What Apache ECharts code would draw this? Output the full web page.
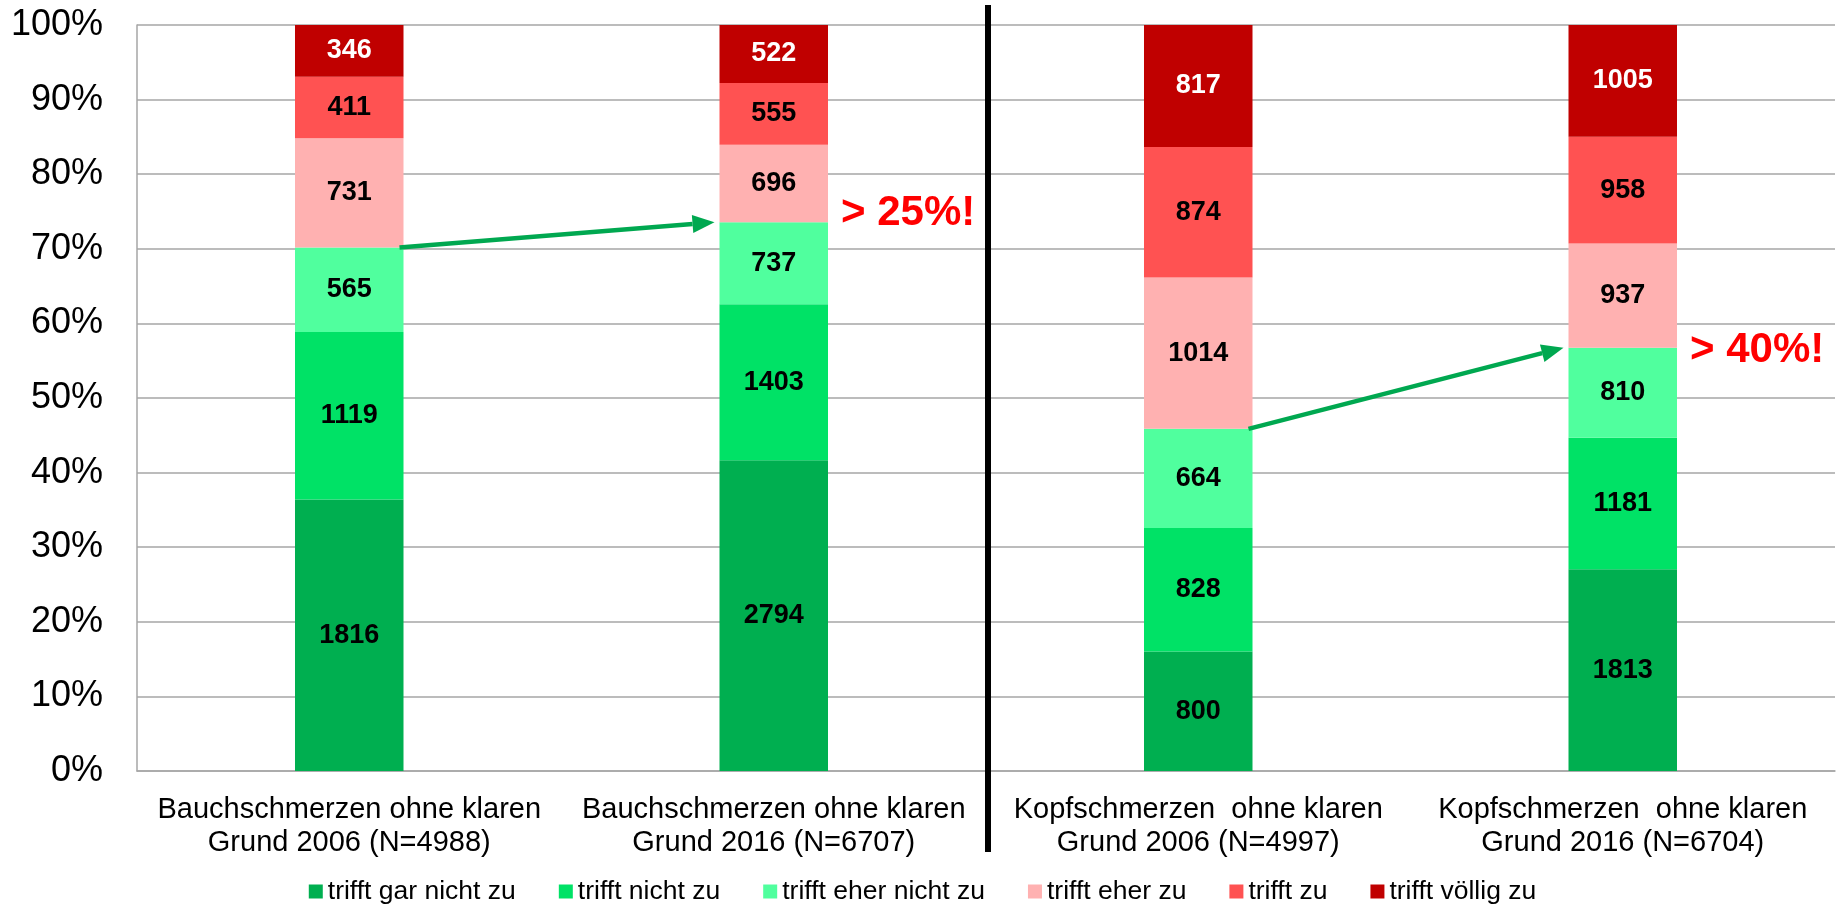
<!DOCTYPE html>
<html>
<head>
<meta charset="utf-8">
<script src="https://cdn.jsdelivr.net/npm/echarts@6/dist/echarts.min.js"></script>
<style>
html,body{margin:0;padding:0;background:#fff;}
#c{width:1845px;height:907px;}
</style>
</head>
<body>
<div id="c"></div>
<script>
const categories = [
  'Bauchschmerzen ohne klaren\nGrund 2006 (N=4988)',
  'Bauchschmerzen ohne klaren\nGrund 2016 (N=6707)',
  'Kopfschmerzen  ohne klaren\nGrund 2006 (N=4997)',
  'Kopfschmerzen  ohne klaren\nGrund 2016 (N=6704)'
];
const seriesNames = ['trifft gar nicht zu', 'trifft nicht zu', 'trifft eher nicht zu', 'trifft eher zu', 'trifft zu', 'trifft völlig zu'];
const garNichtZu   = [1816, 2794, 800, 1813];
const nichtZu      = [1119, 1403, 828, 1181];
const eherNichtZu  = [565, 737, 664, 810];
const eherZu       = [731, 696, 1014, 937];
const zu           = [411, 555, 874, 958];
const voelligZu    = [346, 522, 817, 1005];
const yTicks = [0, 10, 20, 30, 40, 50, 60, 70, 80, 90, 100];
// annotation: arrows go from bar a to bar b at top of green stack
const arrowPairs = [[0, 1], [2, 3]];
const notes = [[1, 74.8, '> 25%!'], [3, 56.4, '> 40%!']];

const colors = ['#00AF50', '#00E266', '#50FF9E', '#FFB1B1', '#FF5252', '#C00000'];
const counts = [garNichtZu, nichtZu, eherNichtZu, eherZu, zu, voelligZu];
const totals = categories.map((c, i) => counts.reduce((s, arr) => s + arr[i], 0));
const share = counts.map(arr => arr.map((v, i) => v / totals[i] * 100));
const greenTop = categories.map((c, i) => share[0][i] + share[1][i] + share[2][i]);
const BAR_FRAC = 0.2556;
const FONT = '"Liberation Sans", Arial, sans-serif';

const barSeries = seriesNames.map((name, s) => ({
  name: name,
  type: 'bar',
  stack: 'all',
  barWidth: (BAR_FRAC * 100) + '%',
  itemStyle: { color: colors[s] },
  label: {
    show: true,
    position: 'inside',
    fontFamily: FONT,
    fontWeight: 'bold',
    fontSize: 27,
    color: s === 5 ? '#FFFFFF' : '#000000',
    formatter: p => String(counts[s][p.dataIndex])
  },
  data: share[s]
}));

const arrowData = arrowPairs.map(([a, b]) => [a, greenTop[a], b, greenTop[b]]);

const option = {
  animation: false,
  backgroundColor: '#fff',
  grid: { left: 137, right: 10, top: 25, bottom: 136, containLabel: false },
  legend: {
    data: seriesNames,
    left: 'center',
    top: 873,
    itemWidth: 14,
    itemHeight: 14,
    itemGap: 43,
    icon: 'rect',
    textStyle: { fontFamily: FONT, fontSize: 26.5, color: '#000' }
  },
  xAxis: {
    type: 'category',
    data: categories,
    axisLine: { show: true, lineStyle: { color: '#A6A6A6', width: 1.5 } },
    axisTick: { show: false },
    axisLabel: { fontFamily: FONT, fontSize: 29, color: '#000', lineHeight: 33, margin: 22, interval: 0 }
  },
  yAxis: {
    type: 'value',
    min: 0, max: 100, interval: 10,
    axisLine: { show: true, lineStyle: { color: '#A6A6A6', width: 1.5 } },
    axisTick: { show: false },
    splitLine: { show: true, lineStyle: { color: '#A6A6A6', width: 1.5 } },
    axisLabel: {
      fontFamily: FONT, fontSize: 36, color: '#000', margin: 34,
      customValues: yTicks,
      formatter: v => v + '%'
    }
  },
  series: barSeries.concat([
    {
      type: 'custom',
      name: 'arrows',
      clip: false,
      silent: true,
      z: 10,
      encode: { x: 0, y: 1 },
      data: arrowData,
      renderItem: function (params, api) {
        const band = api.size([1, 0])[0];
        const half = band * BAR_FRAC / 2;
        const p1 = api.coord([api.value(0), api.value(1)]);
        const p2 = api.coord([api.value(2), api.value(3)]);
        const x1 = p1[0] + half - 4, y1 = p1[1];
        const x2 = p2[0] - half - 5, y2 = p2[1];
        const ang = Math.atan2(y2 - y1, x2 - x1);
        const L = 22, W = 9;
        const bx = x2 - L * Math.cos(ang), by = y2 - L * Math.sin(ang);
        const nx = -Math.sin(ang), ny = Math.cos(ang);
        return {
          type: 'group',
          children: [
            { type: 'line', shape: { x1: x1, y1: y1, x2: bx, y2: by }, style: { stroke: '#00A850', lineWidth: 4.5 } },
            { type: 'polygon', shape: { points: [[x2, y2], [bx + nx * W, by + ny * W], [bx - nx * W, by - ny * W]] }, style: { fill: '#00A850' } }
          ]
        };
      }
    },
    {
      type: 'custom',
      name: 'notes',
      clip: false,
      silent: true,
      z: 10,
      encode: { x: 0, y: 1 },
      data: notes,
      renderItem: function (params, api) {
        const band = api.size([1, 0])[0];
        const half = band * BAR_FRAC / 2;
        const p = api.coord([api.value(0), api.value(1)]);
        return {
          type: 'text',
          x: p[0] + half + 13,
          y: p[1],
          style: {
            text: notes[params.dataIndex][2],
            fill: '#FF0000',
            fontFamily: FONT,
            fontWeight: 'bold',
            fontSize: 42,
            verticalAlign: 'middle',
            align: 'left'
          }
        };
      }
    },
    {
      type: 'custom',
      name: 'divider',
      clip: false,
      silent: true,
      z: 10,
      encode: { x: 0, y: 1 },
      data: [[1, 0]],
      renderItem: function (params, api) {
        const band = api.size([1, 0])[0];
        const p0 = api.coord([1, 0]);
        const pTop = api.coord([1, 100]);
        const x = p0[0] + band / 2 + 2;
        return {
          type: 'line',
          shape: { x1: x, y1: pTop[1] - 20, x2: x, y2: p0[1] + 81 },
          style: { stroke: '#000', lineWidth: 6 }
        };
      }
    }
  ])
};

const chart = echarts.init(document.getElementById('c'), null, { renderer: 'canvas' });
chart.setOption(option);
</script>
</body>
</html>
